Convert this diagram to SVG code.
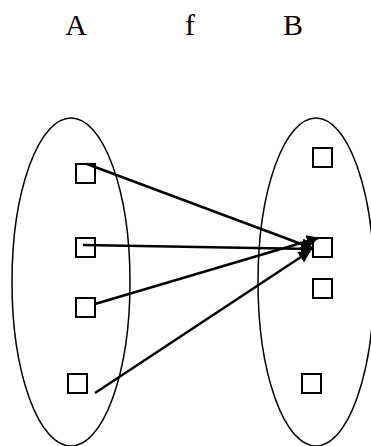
<svg xmlns="http://www.w3.org/2000/svg" width="371" height="446" viewBox="0 0 371 446">
<style>
.t{font-family:"Liberation Serif","Times New Roman",serif;font-size:30px;fill:#000}
.e{fill:none;stroke:#000;stroke-width:1.5}
.s{fill:#fff;stroke:#000;stroke-width:2}
.c{stroke:#000;stroke-width:2.5;fill:none}
</style>
<defs>
<marker id="ah" viewBox="0 0 10 10" refX="9" refY="5" markerWidth="5" markerHeight="5" orient="auto" markerUnits="strokeWidth">
<path d="M0,0 L10,5 L0,10 z" fill="#000"/>
</marker>
</defs>
<g id="labels">
<text class="t" x="76" y="35" text-anchor="middle">A</text>
<text class="t" x="190" y="35" text-anchor="middle">f</text>
<text class="t" x="293" y="35" text-anchor="middle">B</text>
</g>
<g id="setA">
<ellipse class="e" cx="71" cy="282" rx="59" ry="164"/>
</g>
<g id="setB">
<ellipse class="e" cx="316" cy="282" rx="58" ry="164"/>
</g>
<g id="a1"><rect class="s" x="76" y="164" width="19" height="19"/></g>
<g id="a2"><rect class="s" x="76" y="238" width="19" height="19"/></g>
<g id="a3"><rect class="s" x="76" y="298" width="19" height="19"/></g>
<g id="a4"><rect class="s" x="68" y="374" width="19" height="19"/></g>
<g id="b1"><rect class="s" x="313" y="148" width="19" height="19"/></g>
<g id="b2"><rect class="s" x="313" y="238" width="19" height="19"/></g>
<g id="b3"><rect class="s" x="313" y="279" width="19" height="19"/></g>
<g id="b4"><rect class="s" x="302" y="374" width="19" height="19"/></g>
<g id="connectors">
<line class="c" x1="87" y1="164" x2="312" y2="248" marker-end="url(#ah)"/>
<line class="c" x1="83" y1="245" x2="312" y2="249" marker-end="url(#ah)"/>
<line class="c" x1="95" y1="304" x2="318" y2="238" marker-end="url(#ah)"/>
<line class="c" x1="95" y1="393" x2="310" y2="251" marker-end="url(#ah)"/>
</g>
</svg>
